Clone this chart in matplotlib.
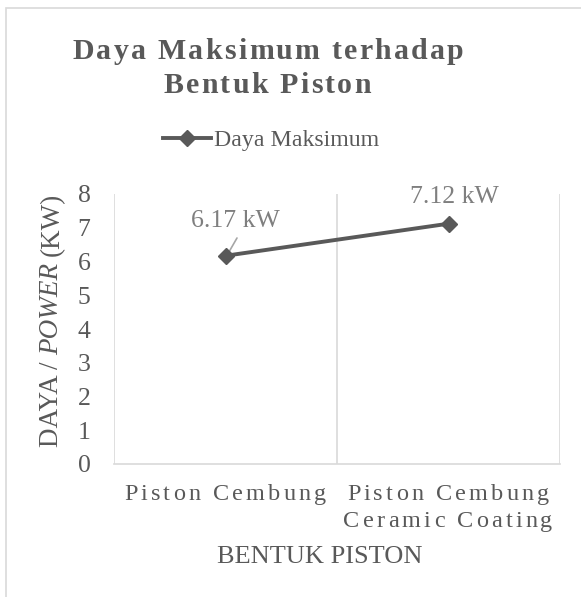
import matplotlib
matplotlib.use("Agg")
import matplotlib.pyplot as plt
from matplotlib.patches import Rectangle
from matplotlib.lines import Line2D

categories = ["Piston Cembung", "Piston Cembung\nCeramic Coating"]
values = [6.17, 7.12]
value_labels = ["6.17 kW", "7.12 kW"]
yticks = [0, 1, 2, 3, 4, 5, 6, 7, 8]
title_lines = ["Daya Maksimum terhadap", "Bentuk Piston"]
series_name = "Daya Maksimum"
ylabel_parts = [("DAYA / ", "normal"), ("POWER", "italic"), (" (KW)", "normal")]
xlabel = "BENTUK PISTON"

W, H = 581, 597
DPI = 100
FONT = "Liberation Serif"
TXT = "#595959"
GRID = "#d9d9d9"
LINEC = "#595959"
LABC = "#7f7f7f"

fig = plt.figure(figsize=(W / DPI, H / DPI), dpi=DPI)
fig.patch.set_facecolor("white")

def fx(px):
    return px / W

def fy(py):
    return 1 - py / H

# chart border (extends past right/bottom)
fig.add_artist(Rectangle((fx(6), fy(H + 20)), fx(W + 20), (H + 20 - 8) / H,
                         transform=fig.transFigure, fill=False,
                         edgecolor=GRID, lw=1.2))

ax = fig.add_axes([fx(114), fy(464), fx(446), (464 - 194) / H])
x = list(range(len(categories)))
ax.plot(x, values, color=LINEC, lw=2.8, marker="D", markersize=8,
        markeredgecolor=LINEC, markerfacecolor=LINEC, zorder=5)
ax.set_xlim(-0.5, len(categories) - 0.5)
ax.set_ylim(0, 8)
for s in ["top", "right", "left"]:
    ax.spines[s].set_visible(False)
ax.spines["bottom"].set_color(GRID)
ax.spines["bottom"].set_linewidth(1.2)
for b in [i - 0.5 for i in range(len(categories) + 1)]:
    ax.axvline(b, color=GRID, lw=1.2, zorder=1)
ax.set_yticks(yticks)
ax.set_yticklabels([str(t) for t in yticks], fontfamily=FONT, fontsize=18.5, color=TXT)
ax.tick_params(axis="y", length=0, pad=17)
ax.set_xticks([])

fig.canvas.draw()
renderer = fig.canvas.get_renderer()

def text_w(s, **kw):
    t = fig.text(0, 0, s, **kw)
    w = t.get_window_extent(renderer).width
    t.remove()
    return w

def spaced_text(xc, ybase, s, width_px, **kw):
    # draw string centered at xc with letter spacing to reach width_px
    sp = text_w("n n", **kw) - text_w("nn", **kw)
    widths = [sp if ch == " " else text_w(ch, **kw) for ch in s]
    total = sum(widths)
    gap = (width_px - total) / max(len(s) - 1, 1)
    cur = xc - width_px / 2
    for ch, w in zip(s, widths):
        if ch != " ":
            fig.text(fx(cur), fy(ybase), ch, ha="left", va="baseline", **kw)
        cur += w + gap

# Title
spaced_text(268, 59, title_lines[0], 391, fontfamily=FONT, fontsize=21.5,
            fontweight="bold", color=TXT)
spaced_text(267, 93, title_lines[1], 207, fontfamily=FONT, fontsize=21.5,
            fontweight="bold", color=TXT)

# Category tick labels (letter spaced)
cat_centers = [225, 448]
line_w = {"Piston Cembung": 202, "Ceramic Coating": 209}
for c, cx in zip(categories, cat_centers):
    for i, line in enumerate(c.split("\n")):
        spaced_text(cx, 500 + 27 * i, line, line_w[line], fontfamily=FONT,
                    fontsize=17.5, color=TXT)

# x label
fig.text(fx(320), fy(563), xlabel, ha="center", va="baseline",
         fontfamily=FONT, fontsize=19, color=TXT)

# y label built from pieces (italic POWER), reading bottom to top
ykw = dict(fontfamily=FONT, fontsize=19.5, color=TXT)
sp = text_w("n n", **ykw) - text_w("nn", **ykw)
pieces = []
for txt, style in ylabel_parts:
    lead = len(txt) - len(txt.lstrip(" "))
    trail = len(txt) - len(txt.rstrip(" "))
    core = txt.strip(" ")
    pieces.append((lead * sp, core, style, text_w(core, fontstyle=style, **ykw), trail * sp))
total = sum(p[0] + p[3] + p[4] for p in pieces)
cur = 320 + total / 2  # bottom pixel (y down)
xl = 52
for lead, core, style, w, trail in pieces:
    cur -= lead
    fig.text(fx(xl), fy(cur - w / 2), core, rotation=90, ha="center", va="center",
             fontstyle=style, **ykw)
    cur -= w + trail

# Legend
leg_handle = Line2D([], [], color=LINEC, lw=2.8, marker="D", markersize=8)
fig.legend([leg_handle], [series_name], loc="center",
           bbox_to_anchor=(fx(271), fy(140)), frameon=False,
           prop={"family": FONT, "size": 17.2}, labelcolor=TXT,
           handlelength=2.0, handletextpad=0.15)

# Data labels
ax.annotate(value_labels[0], xy=(x[0], values[0]), xytext=(235, H - 227),
            textcoords="figure pixels", ha="center", va="baseline",
            fontfamily=FONT, fontsize=18.5, color=LABC)
ax.annotate("", xy=(x[0] + 0.01, values[0] + 0.05), xytext=(237, H - 238),
            textcoords="figure pixels",
            arrowprops=dict(arrowstyle="-", color="#a6a6a6", lw=1.2,
                            shrinkA=0, shrinkB=0))
ax.annotate(value_labels[1], xy=(x[1], values[1]), xytext=(454, H - 203),
            textcoords="figure pixels", ha="center", va="baseline",
            fontfamily=FONT, fontsize=18.5, color=LABC)

fig.savefig("out.png", dpi=DPI, facecolor="white")
